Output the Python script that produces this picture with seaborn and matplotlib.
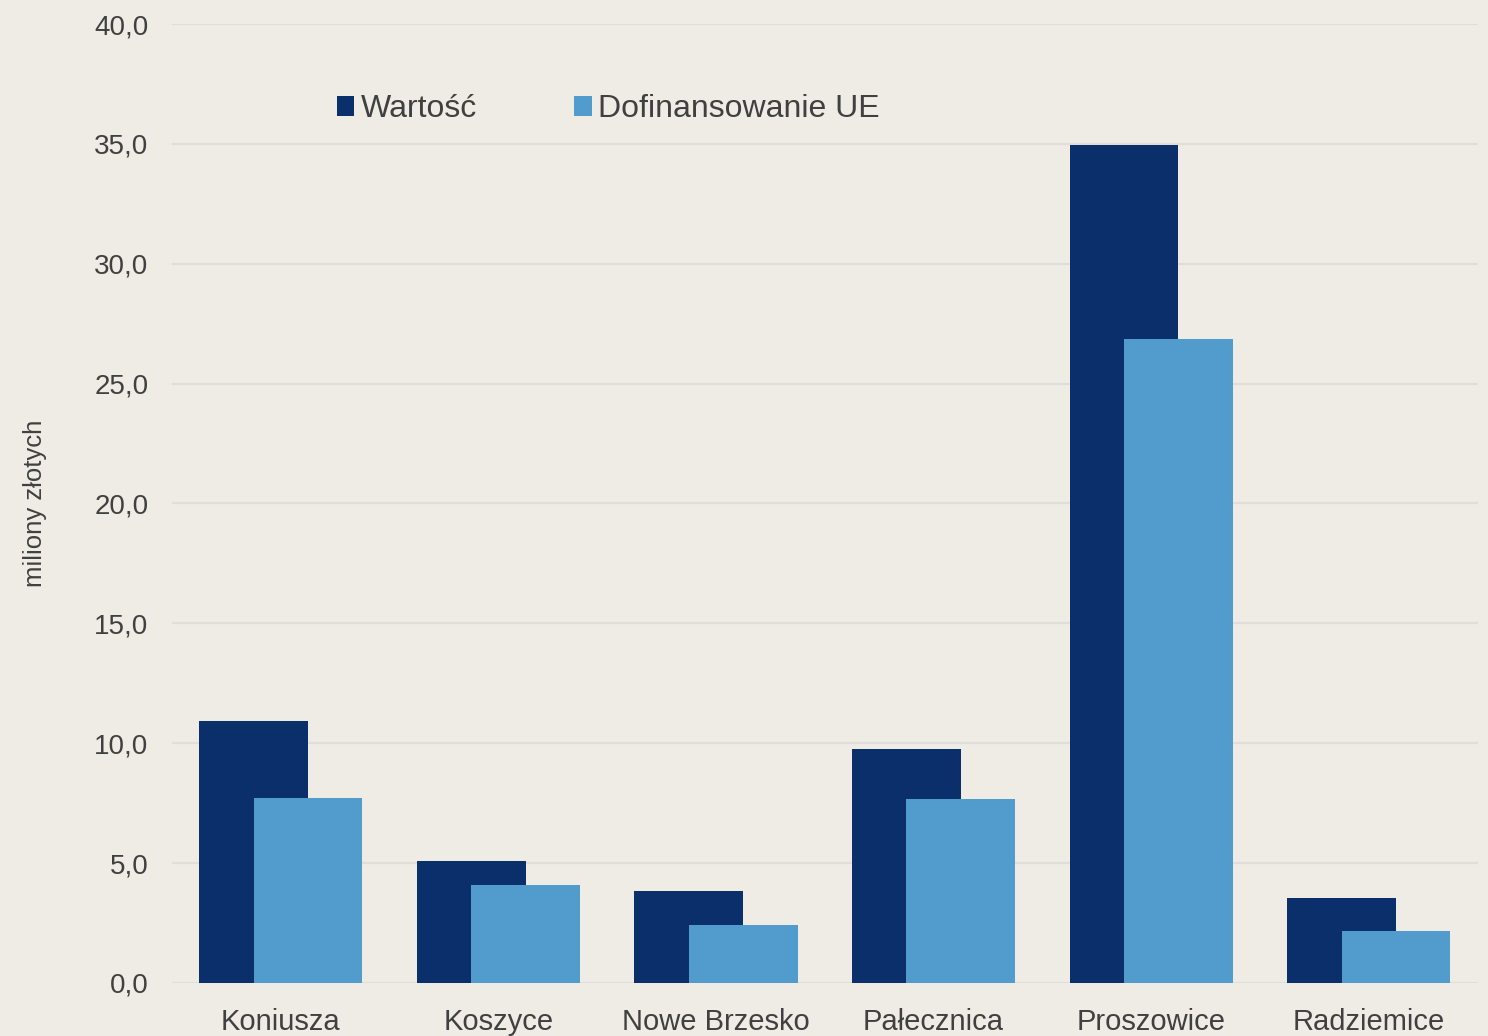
import seaborn as sns
import numpy as np
import matplotlib.pyplot as plt
import pandas as pd
from matplotlib.ticker import FuncFormatter

# data (mln zł)
gminy = ["Koniusza", "Koszyce", "Nowe Brzesko", "Pałecznica", "Proszowice", "Radziemice"]
wartosc = [10.94, 5.07, 3.84, 9.74, 34.94, 3.53]
dofinansowanie = [7.70, 4.10, 2.42, 7.67, 26.87, 2.18]
serie = ["Wartość", "Dofinansowanie UE"]

df = pd.DataFrame({
    "gmina": gminy * 2,
    "seria": [serie[0]] * len(gminy) + [serie[1]] * len(gminy),
    "mln": wartosc + dofinansowanie,
})

sns.set_theme(style="white")
plt.rcParams['font.family'] = ['Liberation Sans', 'DejaVu Sans']

bg = "#efece6"
fig = plt.figure(figsize=(14.88, 10.36), dpi=100, facecolor=bg)
ax = fig.add_axes([0.1156, 0.0512, 0.8774, 0.9256])
ax.set_facecolor(bg)

sns.barplot(data=df, x="gmina", y="mln", hue="seria", order=gminy, hue_order=serie,
            palette=["#0a2f6a", "#529bcd"], width=1.0, gap=0, saturation=1,
            linewidth=0, ax=ax)

# overlap the two series like in the original (shift each by a quarter bar)
n = len(gminy)
for i, p in enumerate(ax.patches[:2 * n]):
    if i < n:
        p.set_x(p.get_x() + 0.125)
        p.set_zorder(2)
    else:
        p.set_x(p.get_x() - 0.125)
        p.set_zorder(3)

ax.set_xlim(-0.5, 5.5)
ax.set_ylim(0, 40)
ax.set_yticks(np.arange(0, 41, 5))
ax.yaxis.set_major_formatter(FuncFormatter(lambda v, _: f"{v:.1f}".replace(".", ",")))
ax.grid(axis="y", color="#e0dedb", linewidth=1.6, zorder=0)
ax.set_axisbelow(True)
for s in ax.spines.values():
    s.set_visible(False)

ax.tick_params(axis="y", length=0, pad=17, labelsize=20, labelcolor="#404040")
ax.tick_params(axis="x", length=0, pad=18, labelsize=21, labelcolor="#404040")
ax.set_xlabel("")
ax.set_ylabel("miliony złotych", fontsize=18.5, color="#404040", labelpad=34)

ax.legend(loc="center left", bbox_to_anchor=(0.126, 0.911), ncol=2, frameon=False,
          fontsize=23, handlelength=0.55, handleheight=0.55, handletextpad=0.2,
          columnspacing=3.05, borderpad=0, borderaxespad=0, labelcolor="#404040")

fig.savefig("out.png", dpi=100, facecolor=bg)
